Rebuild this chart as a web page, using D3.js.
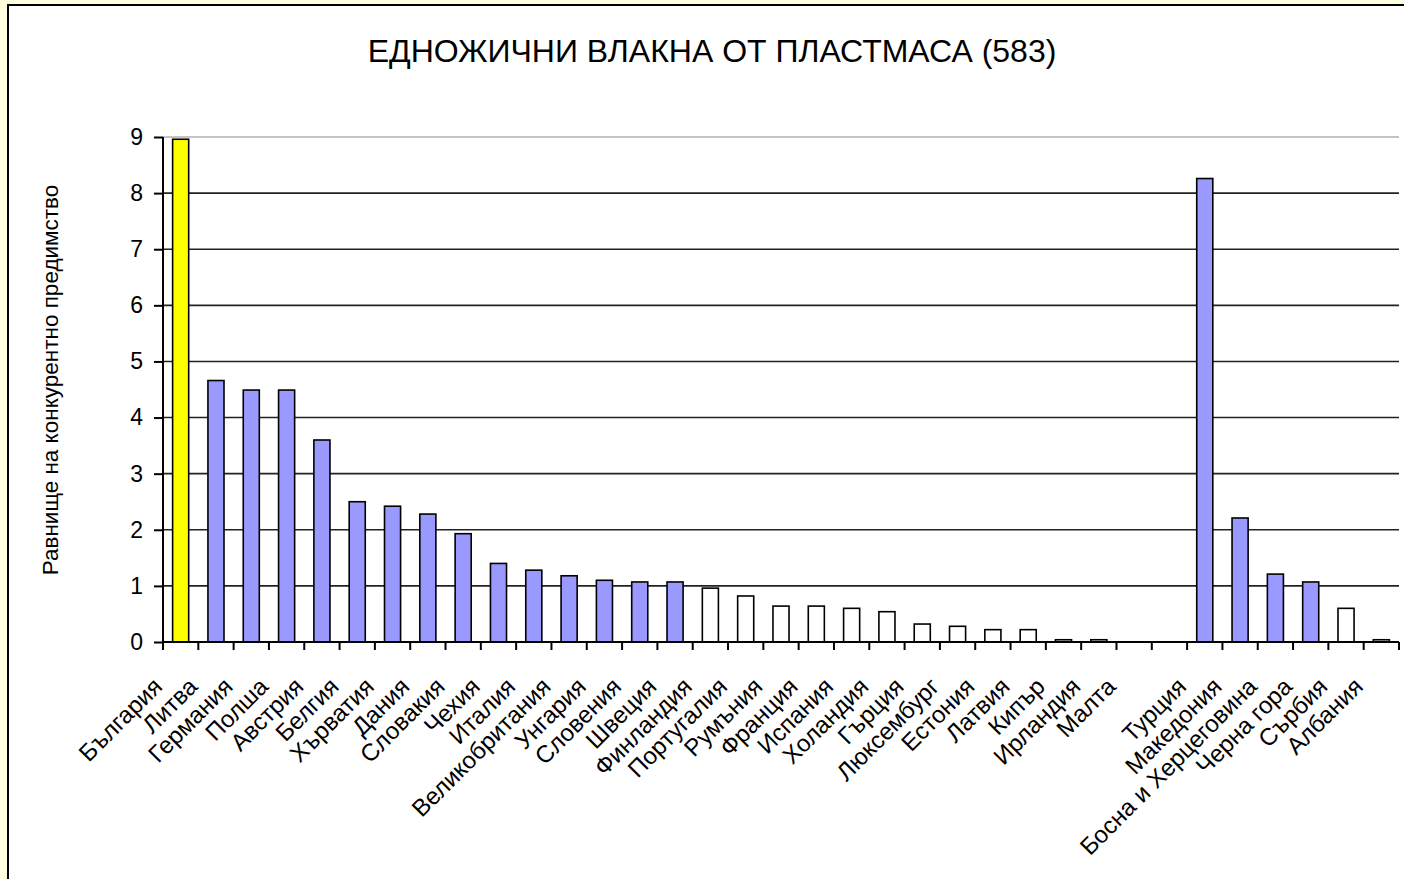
<!DOCTYPE html>
<html><head><meta charset="utf-8">
<script src="https://cdn.jsdelivr.net/npm/d3@7/dist/d3.min.js"></script>
<style>html,body{margin:0;padding:0;background:#FFFFE0;overflow:hidden}svg{display:block}text{font-family:"Liberation Sans",Arial,sans-serif;fill:#000}</style>
</head><body><svg id="c" width="1404" height="879"></svg>
<script>
const title = "ЕДНОЖИЧНИ ВЛАКНА ОТ ПЛАСТМАСА (583)";
const yLabel = "Равнище на конкурентно предимство";
const categories = ["България","Литва","Германия","Полша","Австрия","Белгия","Хърватия","Дания","Словакия","Чехия","Италия","Великобритания","Унгария","Словения","Швеция","Финландия","Португалия","Румъния","Франция","Испания","Холандия","Гърция","Люксембург","Естония","Латвия","Кипър","Ирландия","Малта","","Турция","Македония","Босна и Херцеговина","Черна гора","Сърбия","Албания"];
const values = [8.96,4.66,4.49,4.49,3.60,2.50,2.42,2.28,1.93,1.40,1.28,1.18,1.10,1.07,1.07,0.96,0.82,0.64,0.64,0.60,0.54,0.32,0.28,0.22,0.22,0.04,0.04,0,null,8.26,2.21,1.21,1.07,0.60,0.04];
const groups = ["bg","hi","hi","hi","hi","hi","hi","hi","hi","hi","hi","hi","hi","hi","hi","lo","lo","lo","lo","lo","lo","lo","lo","lo","lo","lo","lo","lo","none","hi","hi","hi","hi","lo","lo"];
const yTicks = [0,1,2,3,4,5,6,7,8,9];

const colour = {bg:"#FFFF00", hi:"#9999FF", lo:"#FFFFFF", none:"none"};
const svg = d3.select("#c");
svg.append("rect").attr("x",8).attr("y",5).attr("width",1410).attr("height",900)
  .attr("fill","#fff").attr("stroke","#000").attr("stroke-width",2);

const L=163, R=1399, T=137, B=642;
const x = d3.scaleBand().domain(d3.range(categories.length)).range([L,R]).paddingInner(0.545).paddingOuter(0.2725);
const y = d3.scaleLinear().domain([0,9]).range([B,T]);

// gridlines
svg.append("g").selectAll("line").data(yTicks.filter(t=>t>0)).join("line")
  .attr("x1",L).attr("x2",R).attr("y1",d=>y(d)).attr("y2",d=>y(d))
  .attr("stroke",d=>d===9?"#b0b0b0":"#222").attr("stroke-width",1.6);

// bars
svg.append("g").selectAll("rect").data(values.map((v,i)=>({v,i}))).join("rect")
  .filter(d=>d.v!==null)
  .attr("x",d=>x(d.i)).attr("width",x.bandwidth())
  .attr("y",d=>y(d.v)).attr("height",d=>B-y(d.v))
  .attr("fill",d=>colour[groups[d.i]]).attr("stroke","#000").attr("stroke-width",1.6);

// y axis
const ya = svg.append("g").attr("transform",`translate(${L},0)`)
  .call(d3.axisLeft(y).tickValues(yTicks).tickSize(9).tickPadding(11).tickFormat(d3.format("d")));
ya.select(".domain").attr("stroke","#000").attr("stroke-width",2).attr("d",`M0,${T}V${B}`);
ya.selectAll(".tick line").attr("stroke","#000").attr("stroke-width",2);
ya.selectAll(".tick text").attr("font-size",23).attr("fill","#000").attr("font-family","Liberation Sans, Arial, sans-serif");

// x axis
const step = x.step();
const xa = svg.append("g").attr("transform",`translate(0,${B})`);
xa.append("line").attr("x1",L).attr("x2",R).attr("stroke","#000").attr("stroke-width",2);
xa.selectAll(".tk").data(d3.range(categories.length+1)).join("line")
  .attr("x1",d=>L+d*step).attr("x2",d=>L+d*step).attr("y1",0).attr("y2",8)
  .attr("stroke","#000").attr("stroke-width",2);
xa.selectAll(".lab").data(categories).join("text")
  .attr("font-size",24).attr("text-anchor","end")
  .attr("transform",(d,i)=>`translate(${x(i)+x.bandwidth()/2-17},${46}) rotate(-45)`)
  .text(d=>d);

svg.append("text").attr("x",712).attr("y",62).attr("text-anchor","middle").attr("font-size",32).text(title);
svg.append("text").attr("transform","translate(58,380) rotate(-90)").attr("text-anchor","middle").attr("font-size",22.5).text(yLabel);
</script></body></html>
